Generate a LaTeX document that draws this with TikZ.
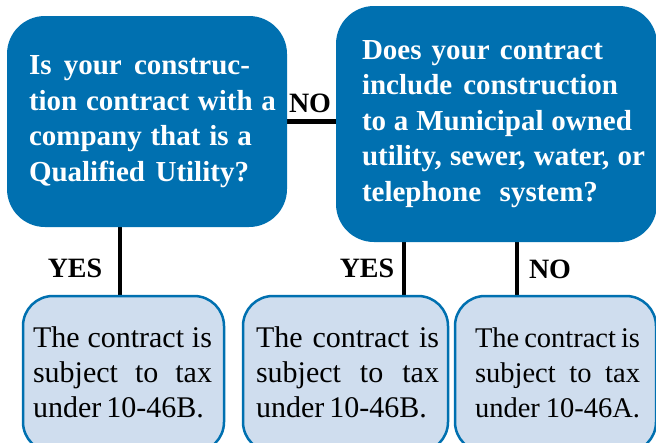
\documentclass[tikz,border=0pt]{standalone}
\usepackage{fontspec}
\setmainfont{Liberation Serif}
\usetikzlibrary{backgrounds}
\definecolor{qblue}{RGB}{0,112,176}
\definecolor{qlight}{RGB}{207,221,238}
\newcommand{\qline}[2]{\makebox[#1pt][s]{#2}}
\begin{document}
\begin{tikzpicture}[x=1pt,y=-1pt,
  qbox/.style={draw=none, fill=qblue, text=white, rounded corners=38pt, inner sep=0pt,
    font=\fontsize{29}{35.5}\selectfont\bfseries},
  abox/.style={draw=qblue, line width=2.5pt, fill=qlight, rounded corners=30pt, inner sep=0pt,
    font=\fontsize{30}{35}\selectfont},
  conn/.style={line width=4.5pt, black},
  lab/.style={font=\fontsize{28}{28}\selectfont\bfseries, inner sep=0pt}]
\useasboundingbox (0,0) rectangle (656,442);
\clip (0,0) rectangle (656,442);

\node[qbox, minimum width=280pt, minimum height=211pt] (box1) at (147,121.5)
  {\hspace*{11pt}\parbox{247pt}{\qline{221}{Is your construc-}\\
   \qline{247}{tion contract with a}\\
   \qline{223}{company that is a}\\
   \qline{220}{Qualified Utility?}}};

\node[qbox, minimum width=321pt, minimum height=236pt] (box2) at (496.5,124)
  {\hspace*{14pt}\parbox{283pt}{\qline{241}{Does your contract}\\
   \qline{256}{include construction}\\
   \qline{270}{to a Municipal owned}\\
   \qline{283}{utility, sewer, water, or}\\
   \qline{236}{telephone system?}}};

\node[abox, minimum width=201pt, minimum height=156pt] (box3) at (123.5,374)
  {\hspace*{-2pt}\parbox{179pt}{\qline{179}{The contract is}\\
   \qline{179}{subject to tax}\\
   \qline{167}{under 10-46B.}\par\vspace{3pt}}};

\node[abox, minimum width=205pt, minimum height=156pt] (box4) at (345.5,374)
  {\hspace*{4pt}\parbox{183pt}{\qline{183}{The contract is}\\
   \qline{183}{subject to tax}\\
   \qline{165}{under 10-46B.}\par\vspace{3pt}}};

\node[abox, minimum width=201pt, minimum height=156pt, font=\fontsize{28.5}{35}\selectfont] (box5) at (555.5,374)
  {\hspace*{4pt}\parbox{165pt}{\qline{165}{The contract is}\\
   \qline{165}{subject to tax}\\
   \qline{165}{under 10-46A.}\par\vspace{3pt}}};

\node[lab] (no1) at (310,103) {NO};
\node[lab] (yes1) at (75,268) {YES};
\node[lab] (yes2) at (367,268) {YES};
\node[lab] (no2) at (550,269) {NO};

\begin{pgfonlayer}{background}
\draw[conn] (box1.east) -- (box2.west |- box1.east);
\draw[conn] ([xshift=-27pt]box1.south) -- ([xshift=-27pt]box1.south |- box3.north);
\draw[conn] ([xshift=-92.5pt]box2.south) -- ([xshift=-92.5pt]box2.south |- box4.north);
\draw[conn] ([xshift=20.5pt]box2.south) -- ([xshift=20.5pt]box2.south |- box5.north);
\end{pgfonlayer}
\end{tikzpicture}
\end{document}
